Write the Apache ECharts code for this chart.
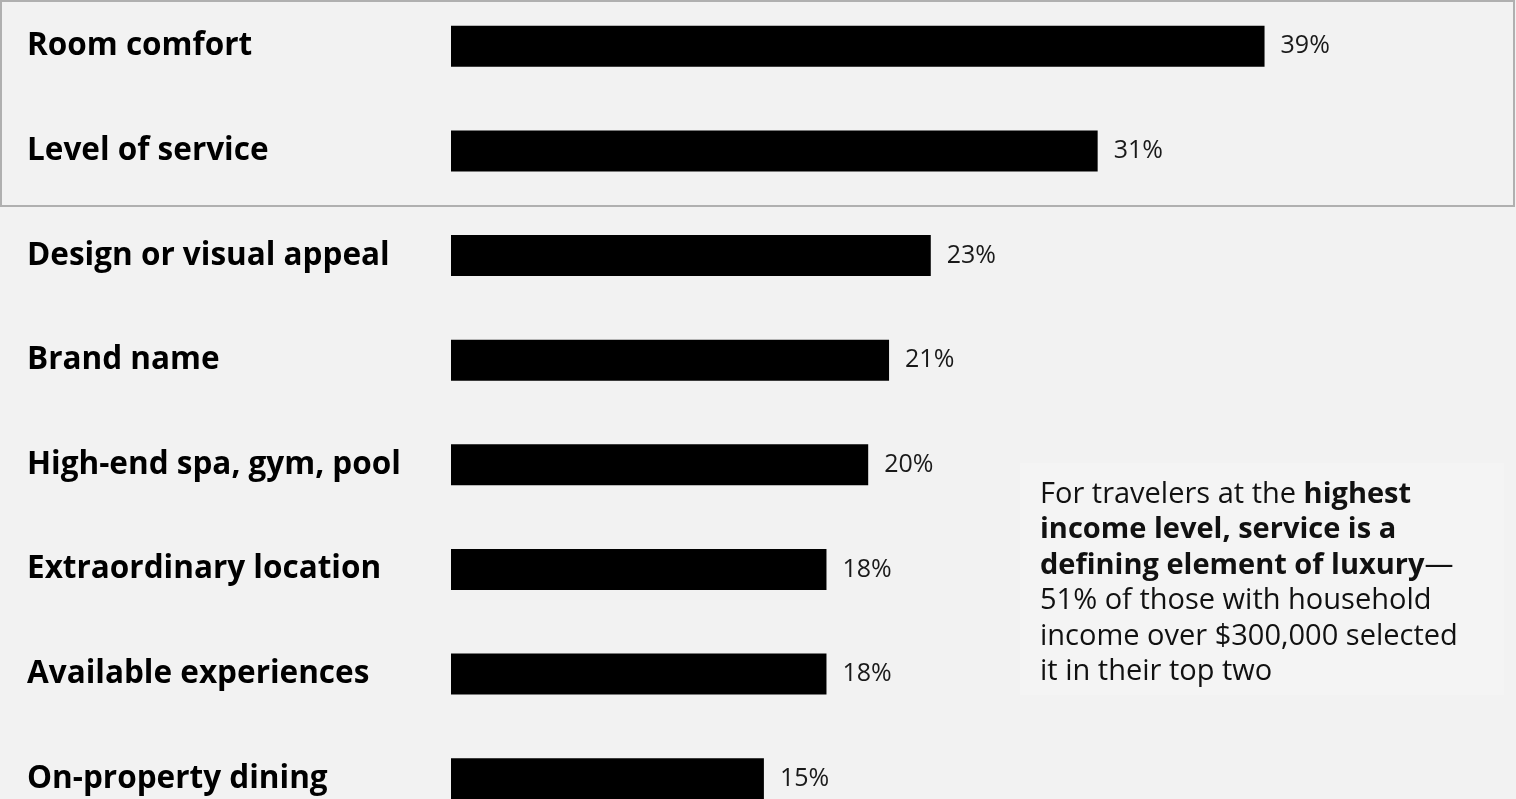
<!DOCTYPE html>
<html>
<head>
<meta charset="utf-8">
<script src="https://cdn.jsdelivr.net/npm/echarts@6/dist/echarts.min.js"></script>
<style>
  html, body { margin: 0; padding: 0; background: #f2f2f2; overflow: hidden; }
  #chart { position: absolute; left: 0; top: -6px; width: 1516px; height: 837px; }
</style>
</head>
<body>
<div id="chart"></div>
<script>
var categories = [
  'Room comfort',
  'Level of service',
  'Design or visual appeal',
  'Brand name',
  'High-end spa, gym, pool',
  'Extraordinary location',
  'Available experiences',
  'On-property dining'
];
var shares = [39, 31, 23, 21, 20, 18, 18, 15];

var myChart = echarts.init(document.getElementById('chart'));

// chart div sits 6px above the page, so graphic y values carry +6
myChart.setOption({
  backgroundColor: '#f2f2f2',
  animation: false,
  grid: {
    left: 451,
    top: 0,
    height: 837,
    width: 1043
  },
  xAxis: {
    type: 'value',
    min: 0,
    max: 50,
    show: false
  },
  yAxis: {
    type: 'category',
    inverse: true,
    data: categories,
    axisLine: { show: false },
    axisTick: { show: false },
    splitLine: { show: false },
    axisLabel: {
      align: 'left',
      margin: 424,
      padding: [0, 0, 22, 0],
      color: '#000',
      fontFamily: 'Open Sans',
      fontWeight: 'bold',
      fontSize: 31.5
    }
  },
  series: [{
    type: 'bar',
    barWidth: 41,
    data: shares,
    itemStyle: { color: '#000' },
    label: {
      show: true,
      position: 'right',
      distance: 16,
      color: '#1a1a1a',
      fontFamily: 'Open Sans',
      fontSize: 25,
      formatter: function (p) { return p.value + '%'; }
    }
  }],
  graphic: [
    {
      type: 'rect',
      z: 10,
      shape: { x: 1, y: 7, width: 1513, height: 205 },
      style: { fill: 'none', stroke: '#b0b0b0', lineWidth: 2 }
    },
    {
      type: 'rect',
      z: 5,
      shape: { x: 1020, y: 469, width: 484, height: 232 },
      style: { fill: '#f4f4f4' }
    },
    {
      type: 'text',
      z: 6,
      left: 1040,
      top: 486,
      style: {
        text: '{n|For travelers at the }{b|highest}\n' +
              '{b|income level, service is a}\n' +
              '{b|defining element of luxury}{n|—}\n' +
              '{n|51% of those with household}\n' +
              '{n|income over $300,000 selected}\n' +
              '{n|it in their top two}',
        fill: '#111',
        rich: {
          n: { fontFamily: 'Open Sans', fontSize: 29, lineHeight: 35.5, color: '#111' },
          b: { fontFamily: 'Open Sans', fontSize: 29, lineHeight: 35.5, fontWeight: 'bold', color: '#111' }
        }
      }
    }
  ]
});
</script>
</body>
</html>
